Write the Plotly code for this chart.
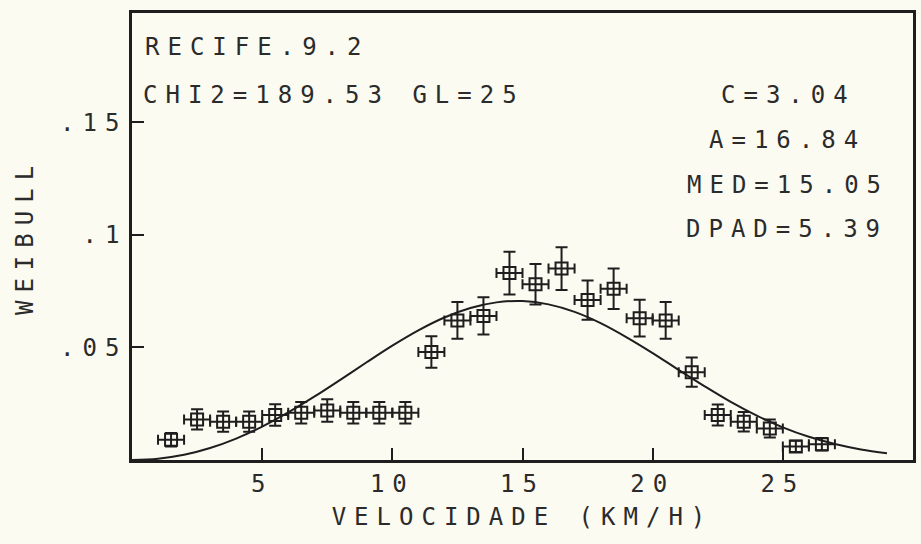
import plotly.graph_objects as go

# ---------------- data ----------------
vel = [1.5, 2.5, 3.5, 4.5, 5.5, 6.5, 7.5, 8.5, 9.5, 10.5, 11.5, 12.5, 13.5,
       14.5, 15.5, 16.5, 17.5, 18.5, 19.5, 20.5, 21.5, 22.5, 23.5, 24.5, 25.5, 26.5]
freq = [0.009, 0.018, 0.017, 0.017, 0.020, 0.021, 0.022, 0.021, 0.021, 0.021,
        0.048, 0.062, 0.064, 0.083, 0.078, 0.085, 0.071, 0.076, 0.063, 0.062,
        0.039, 0.020, 0.017, 0.014, 0.006, 0.007]
freq_err = [0.003, 0.0045, 0.0045, 0.0045, 0.0048, 0.0048, 0.005, 0.0048, 0.0048, 0.0048,
            0.007, 0.0082, 0.0083, 0.0095, 0.009, 0.0095, 0.0087, 0.009, 0.0082, 0.0082,
            0.0065, 0.0047, 0.0043, 0.004, 0.0025, 0.0028]
vel_err = [0.5] * len(vel)

curve_x = list(range(0, 30))
curve_y = [0.0, 0.0006, 0.0023, 0.0053, 0.0095, 0.0148, 0.0211, 0.0281, 0.0356, 0.0433,
           0.0508, 0.0576, 0.0633, 0.0675, 0.0700, 0.0706, 0.0691, 0.0658, 0.0608, 0.0545,
           0.0475, 0.0400, 0.0327, 0.0258, 0.0197, 0.0145, 0.0103, 0.0071, 0.0047, 0.0030]

x_ticks = [5, 10, 15, 20, 25]
y_ticks = [0.05, 0.1, 0.15]
y_ticktext = [".05", ".1", ".15"]

title_lines = ["RECIFE.9.2", "CHI2=189.53 GL=25"]
param_lines = ["C=3.04", "A=16.84", "MED=15.05", "DPAD=5.39"]
x_title = "VELOCIDADE (KM/H)"
y_title = "WEIBULL"

# ---------------- styling ----------------
INK = "#1e1e1e"
TXT = "#2b2b2b"
BG = "#fcfbf2"
FONT = "DejaVu Sans Mono"
FS = 24
W, H = 921, 544
ML, MR, MT, MB = 132, 5, 13, 84
PW, PH = W - ML - MR, H - MT - MB


def px(x):
    return (x - ML) / PW


def py(y):
    return (H - MB - y) / PH


fig = go.Figure()

fig.add_trace(go.Scatter(
    x=curve_x, y=curve_y, mode="lines",
    line=dict(color=INK, width=2, shape="spline"),
    hoverinfo="skip", showlegend=False,
))

fig.add_trace(go.Scatter(
    x=vel, y=freq, mode="markers",
    marker=dict(symbol="square-open", size=12, color=INK, line=dict(width=2, color=INK)),
    error_y=dict(type="data", array=freq_err, visible=True, color=INK, thickness=2, width=6),
    error_x=dict(type="data", array=vel_err, visible=True, color=INK, thickness=2, width=5),
    showlegend=False,
))

annotations = []
left_pos = [(254, 47), (331, 95)]
for txt, (cx, cy) in zip(title_lines, left_pos):
    annotations.append(dict(text=txt, x=px(cx + 4), y=py(cy), xref="paper", yref="paper",
                            xanchor="center", yanchor="middle", showarrow=False,
                            font=dict(family=FONT, size=FS, color=TXT)))
right_pos = [(787, 95), (786, 140), (787, 185), (786, 229)]
for txt, (cx, cy) in zip(param_lines, right_pos):
    annotations.append(dict(text=txt, x=px(cx + 4), y=py(cy), xref="paper", yref="paper",
                            xanchor="center", yanchor="middle", showarrow=False,
                            font=dict(family=FONT, size=FS, color=TXT)))

axis_common = dict(
    showline=True, mirror=True, linecolor=INK, linewidth=2.5,
    ticks="inside", ticklen=12, tickwidth=2, tickcolor=INK,
    showgrid=False, zeroline=False,
    tickfont=dict(family=FONT, size=FS, color=TXT),
)

fig.update_layout(
    width=W, height=H, autosize=False,
    margin=dict(l=ML, r=MR, t=MT, b=MB),
    paper_bgcolor=BG, plot_bgcolor=BG,
    xaxis=dict(range=[0, 30], tickvals=x_ticks,
               title=dict(text=x_title, font=dict(family=FONT, size=FS, color=TXT), standoff=12),
               **axis_common),
    yaxis=dict(range=[0, 0.1985], tickvals=y_ticks, ticktext=y_ticktext,
               ticklabelstandoff=-3,
               title=dict(text=y_title, font=dict(family=FONT, size=FS, color=TXT), standoff=44),
               **axis_common),
    annotations=annotations,
)

post = """
var s = document.createElement('style');
s.innerHTML = 'html, body { margin: 0; padding: 0; background: #fcfbf2; overflow: hidden; } svg text { letter-spacing: 8px; }';
document.head.appendChild(s);
"""
fig.write_html("out.html", post_script=post, config={"displayModeBar": False})
